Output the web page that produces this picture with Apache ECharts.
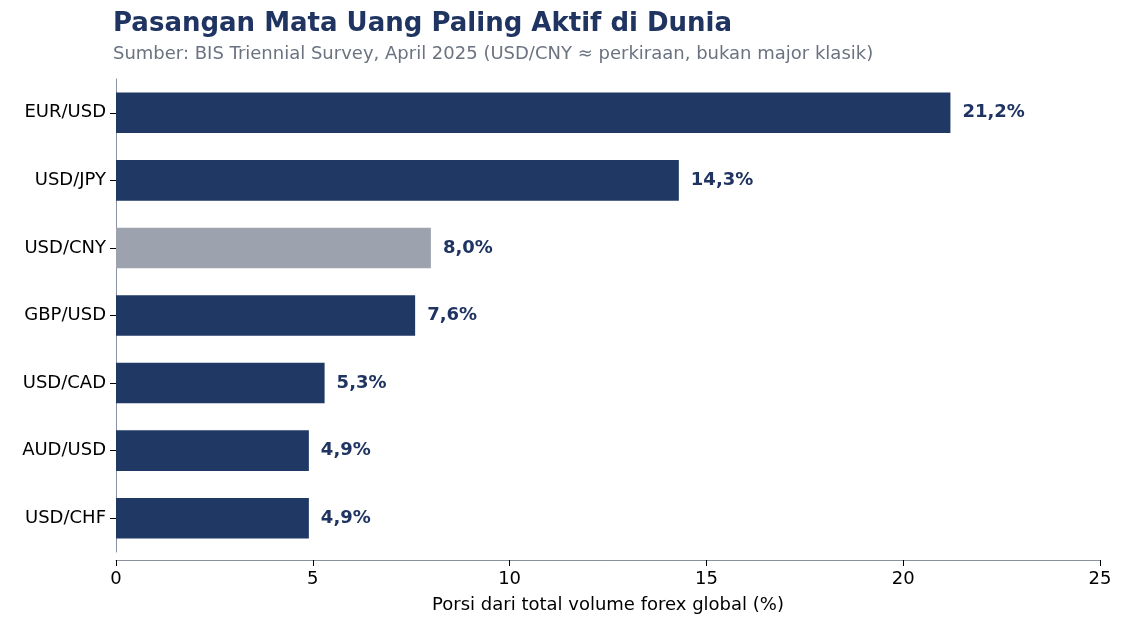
<!DOCTYPE html>
<html><head><meta charset="utf-8">
<script src="https://cdn.jsdelivr.net/npm/echarts@6/dist/echarts.min.js"></script>
<style>html,body{margin:0;padding:0;background:#fff}#c{width:1125px;height:632px}</style>
</head><body><div id="c"></div>
<script>
const categories = ["EUR/USD","USD/JPY","USD/CNY","GBP/USD","USD/CAD","AUD/USD","USD/CHF"];
const values = [21.2,14.3,8.0,7.6,5.3,4.9,4.9];
const highlight = ["USD/CNY"];
const xTicks = [0,5,10,15,20,25];
const font = "DejaVu Sans";
const chart = echarts.init(document.getElementById('c'));
chart.setOption({
  animation:false,
  textStyle:{fontFamily:font},
  title:{text:"Pasangan Mata Uang Paling Aktif di Dunia",
    subtext:"Sumber: BIS Triennial Survey, April 2025 (USD/CNY ≈ perkiraan, bukan major klasik)",
    left:108, top:6, itemGap:8,
    textStyle:{fontFamily:font,fontSize:26,fontWeight:'bold',color:'#1f3461'},
    subtextStyle:{fontFamily:font,fontSize:18,color:'#6b7280'}},
  grid:{left:116,right:25,top:79,bottom:80},
  xAxis:{type:'value',min:0,max:25,interval:5,offset:8,
    name:"Porsi dari total volume forex global (%)",nameLocation:'middle',nameGap:36,
    nameTextStyle:{fontFamily:font,fontSize:18,color:'#000'},
    axisLine:{show:true,lineStyle:{color:'#8a929e'}},
    axisTick:{show:true,length:6,lineStyle:{color:'#000'}},
    axisLabel:{fontFamily:font,fontSize:18,color:'#000',margin:10},
    splitLine:{show:false}},
  yAxis:{type:'category',data:categories,inverse:true,
    axisLine:{show:true,lineStyle:{color:'#8a929e'}},
    axisTick:{show:true,alignWithLabel:true,length:6,lineStyle:{color:'#000'}},
    axisLabel:{fontFamily:font,fontSize:18,color:'#000',margin:10}},
  series:[{type:'bar',barWidth:'60%',
    data:categories.map((c,i)=>({value:values[i],itemStyle:{color:highlight.includes(c)?'#9ca3af':'#1f3864'}})),
    label:{show:true,position:'right',distance:12,fontFamily:font,fontSize:18,fontWeight:'bold',color:'#1f3461',
      formatter:p=>p.value.toFixed(1).replace('.',',')+'%'}}]
});
</script></body></html>
